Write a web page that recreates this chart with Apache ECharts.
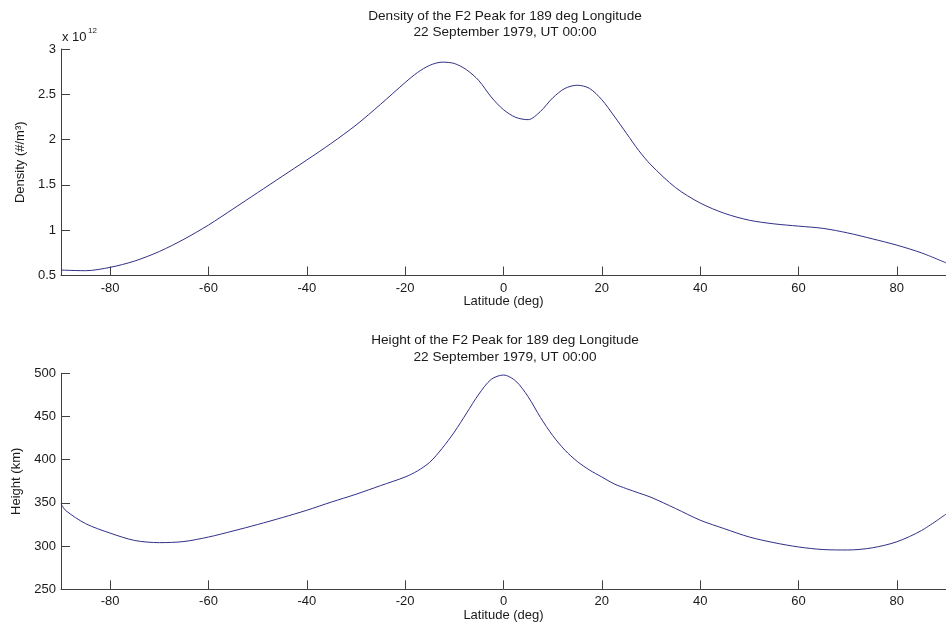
<!DOCTYPE html>
<html>
<head>
<meta charset="utf-8">
<script src="https://cdn.jsdelivr.net/npm/echarts@6/dist/echarts.min.js"></script>
<style>
html,body{margin:0;padding:0;background:#fff;}
#chart{width:946px;height:629px;}
</style>
</head>
<body>
<div id="chart"></div>
<script>
// Latitude (deg)
const lat = [-90,-89,-85,-80,-75,-70,-65,-60,-55,-50,-45,-40,-35,-30,-25,-20,-17.5,-15,-12.5,-10,-7.5,-5,-2.5,0,2.5,5,7.5,10,12.5,15,17.5,20,22.5,25,27.5,30,35,40,45,50,55,60,65,70,75,80,85,90];
// Density of the F2 peak, in units of 10^12 #/m^3
const density = [0.56,0.558,0.553,0.59,0.66,0.765,0.90,1.057,1.235,1.415,1.595,1.775,1.96,2.16,2.39,2.63,2.74,2.82,2.855,2.84,2.77,2.65,2.47,2.33,2.245,2.22,2.31,2.46,2.565,2.60,2.565,2.44,2.26,2.07,1.88,1.72,1.47,1.30,1.185,1.11,1.07,1.045,1.02,0.97,0.905,0.835,0.75,0.64];
// Height of the F2 peak (km)
const heightKm = [349,341,326,315,306.5,304,305.3,310.5,317.5,325,333,341.5,351,360,370,380,387,397,413,432,454,476,493,498,491,473,449,428,411,398,388,380,372,366.5,361.5,356.5,343.5,330,320,310.5,304,299,296,295.5,298,305,318,337];

const title1 = ['Density of the F2 Peak for 189 deg Longitude', '22 September 1979, UT 00:00'];
const title2 = ['Height of the F2 Peak for 189 deg Longitude', '22 September 1979, UT 00:00'];

const FONT = '"Liberation Sans", Arial, Helvetica, sans-serif';
const TXT = '#1a1a1a';
const AX = '#404040';
const LINE = '#2f2f88';

const chart = echarts.init(document.getElementById('chart'), null, {renderer: 'canvas'});

function xAxisCfg(gridIndex) {
  return {
    type: 'value', gridIndex, min: -90, max: 90, splitNumber: 9,
    name: 'Latitude (deg)', nameLocation: 'middle', nameGap: 18,
    nameTextStyle: {fontFamily: FONT, fontSize: 13, color: TXT},
    axisLine: {show: true, onZero: false, lineStyle: {color: AX, width: 1}},
    axisTick: {show: true, inside: true, length: 9, lineStyle: {color: AX}},
    axisLabel: {fontFamily: FONT, fontSize: 13, color: TXT, margin: 6, showMinLabel: false, showMaxLabel: false},
    splitLine: {show: false}
  };
}
function yAxisCfg(gridIndex, min, max, interval, name, gap) {
  return {
    type: 'value', gridIndex, min, max, interval,
    name, nameLocation: 'middle', nameGap: gap, nameRotate: 90,
    nameTextStyle: {fontFamily: FONT, fontSize: 13, color: TXT},
    axisLine: {show: true, onZero: false, lineStyle: {color: AX, width: 1}},
    axisTick: {show: true, inside: true, length: 9, lineStyle: {color: AX}},
    axisLabel: {fontFamily: FONT, fontSize: 13, color: TXT, margin: 5},
    splitLine: {show: false}
  };
}

function titleTexts(lines, cx, y1, dy) {
  return lines.map((t, i) => ({
    type: 'text', x: cx, y: y1 + i * dy,
    style: {text: t, font: '13.6px ' + FONT, fill: TXT, align: 'center', verticalAlign: 'middle'}
  }));
}

const option = {
  backgroundColor: '#fff',
  animation: false,
  grid: [
    {left: 61, top: 49, width: 892.5, height: 226.5, containLabel: false},
    {left: 61, top: 373.3, width: 892.5, height: 216, containLabel: false}
  ],
  xAxis: [xAxisCfg(0), xAxisCfg(1)],
  yAxis: [
    yAxisCfg(0, 0.5, 3, 0.5, 'Density (#/m³)', 28),
    yAxisCfg(1, 250, 500, 50, 'Height (km)', 35)
  ],
  series: [
    {type: 'line', xAxisIndex: 0, yAxisIndex: 0, data: lat.map((x, i) => [x, density[i]]),
     showSymbol: false, smooth: 0.3, lineStyle: {color: LINE, width: 1}, clip: true},
    {type: 'line', xAxisIndex: 1, yAxisIndex: 1, data: lat.map((x, i) => [x, heightKm[i]]),
     showSymbol: false, smooth: 0.3, lineStyle: {color: LINE, width: 1}, clip: true}
  ],
  graphic: [
    ...titleTexts(title1, 505, 16, 16.5),
    ...titleTexts(title2, 505, 340.5, 16.5),
    {type: 'text', x: 62, y: 37, style: {text: 'x 10', font: '13px ' + FONT, fill: TXT, align: 'left', verticalAlign: 'middle'}},
    {type: 'text', x: 88, y: 31, style: {text: '12', font: '8px ' + FONT, fill: TXT, align: 'left', verticalAlign: 'middle'}}
  ]
};
chart.setOption(option);
</script>
</body>
</html>
